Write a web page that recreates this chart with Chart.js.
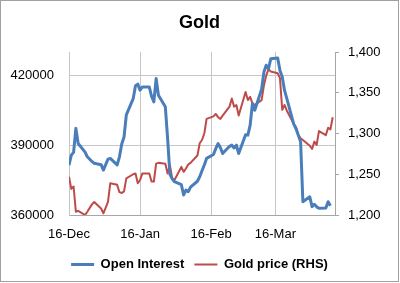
<!DOCTYPE html>
<html>
<head>
<meta charset="utf-8">
<script src="https://cdn.jsdelivr.net/npm/chart.js@4"></script>
<style>
  body { margin: 0; background: #fff; }
  #box { width: 397px; height: 280px; border: 1px solid #a0a0a0; position: relative; }
</style>
</head>
<body>
<div id="box"><canvas id="gold"></canvas></div>
<script>
// trading days, 16-Dec-2013 to 10-Apr-2014
var dates = [
  '2013-12-16','2013-12-17','2013-12-18','2013-12-19','2013-12-20',
  '2013-12-23','2013-12-24','2013-12-26','2013-12-27',
  '2013-12-30','2013-12-31','2014-01-02','2014-01-03',
  '2014-01-06','2014-01-07','2014-01-08','2014-01-09','2014-01-10',
  '2014-01-13','2014-01-14','2014-01-15','2014-01-16','2014-01-17',
  '2014-01-20','2014-01-21','2014-01-22','2014-01-23','2014-01-24',
  '2014-01-27','2014-01-28','2014-01-29','2014-01-30','2014-01-31',
  '2014-02-03','2014-02-04','2014-02-05','2014-02-06','2014-02-07',
  '2014-02-10','2014-02-11','2014-02-12','2014-02-13','2014-02-14',
  '2014-02-17','2014-02-18','2014-02-19','2014-02-20','2014-02-21',
  '2014-02-24','2014-02-25','2014-02-26','2014-02-27','2014-02-28',
  '2014-03-03','2014-03-04','2014-03-05','2014-03-06','2014-03-07',
  '2014-03-10','2014-03-11','2014-03-12','2014-03-13','2014-03-14',
  '2014-03-17','2014-03-18','2014-03-19','2014-03-20','2014-03-21',
  '2014-03-24','2014-03-25','2014-03-26','2014-03-27','2014-03-28',
  '2014-03-31','2014-04-01','2014-04-02','2014-04-03','2014-04-04',
  '2014-04-07','2014-04-08','2014-04-09','2014-04-10'
];

var openInterest = [
  381400, 385700, 386900, 397200, 390700,
  387000, 385000, 383000, 382200,
  381600, 379300, 384000, 384300,
  381500, 385000, 390500, 393500, 403000,
  410000, 415500, 416200, 413600, 415000,
  415000, 411000, 408600, 418600, 411400,
  406500, 393000, 377500, 375500, 374300,
  373000, 368600, 370700, 370000, 372000,
  374500, 376400, 379000, 381500, 384300,
  386000, 388500, 390700, 389000, 386400,
  389500, 390000, 388800, 390000, 386400,
  394500, 394300, 398600, 407900, 405000,
  414000, 421400, 424300, 422900, 427100,
  427400, 422100, 419300, 413500, 410000,
  399000, 397000, 394300, 391400, 365700,
  367800, 363600, 364600, 363500, 362900,
  363000, 365700, 364000, null
];

var goldPrice = [
  1247, 1232, 1235, 1204, 1205,
  1200, 1204, 1213, 1216,
  1208, 1202, 1216, 1239,
  1237, 1228, 1227, 1229, 1245,
  1250, 1251, 1239, 1243, 1251,
  1251, 1241, 1241, 1263, 1264,
  1263, 1251, 1261, 1245, 1243,
  1259, 1253, 1257, 1262, 1264,
  1273, 1288, 1292, 1300, 1318,
  1321, 1324, 1320, 1318, 1322,
  1333, 1343, 1333, 1335, 1322,
  1351, 1341, 1345, 1337, 1335,
  1341, 1359, 1371, 1379, 1376,
  1374, 1368, 1329, 1335, 1328,
  1312, 1308, 1298, 1294, 1292,
  1285, 1281, 1290, 1286, 1303,
  1298, 1307, 1305, 1320
];

var tickDates = ['2013-12-16', '2014-01-16', '2014-02-16', '2014-03-16'];
var tickLabels = ['16-Dec', '16-Jan', '16-Feb', '16-Mar'];
var oiTicks = [360000, 390000, 420000];
var priceTicks = [1200, 1250, 1300, 1350, 1400];

function dayOf(d) {
  return (Date.parse(d) - Date.parse(dates[0])) / 864e5;
}

function points(values) {
  return dates.map(function(d, i) { return {x: dayOf(d), y: values[i]}; });
}

function fixedTicks(list) {
  return function(axis) {
    axis.ticks = list.map(function(v) { return {value: v}; });
  };
}

var gridColor = '#c6c6c6';
var axisColor = '#a6a6a6';

Chart.defaults.font.family = '"Liberation Sans", Arial, sans-serif';
Chart.defaults.font.size = 13;
Chart.defaults.color = '#000';

var ctx = document.getElementById('gold').getContext('2d');
var config = {
  type: 'line',
  data: {
    datasets: [{
      label: 'Open Interest',
      data: points(openInterest),
      yAxisID: 'y',
      borderColor: '#4A7EBB',
      backgroundColor: '#4A7EBB',
      borderWidth: 3,
      borderJoinStyle: 'round',
      pointRadius: 0,
      tension: 0
    }, {
      label: 'Gold price (RHS)',
      data: points(goldPrice),
      yAxisID: 'y2',
      borderColor: '#BE4B48',
      backgroundColor: '#BE4B48',
      borderWidth: 2,
      borderJoinStyle: 'round',
      pointRadius: 0,
      tension: 0
    }]
  },
  options: {
    responsive: true,
    maintainAspectRatio: false,
    animation: false,
    layout: { padding: 0 },
    plugins: {
      title: {
        display: true,
        text: 'Gold',
        font: { size: 18, weight: 'bold' },
        padding: { top: 11, bottom: 18.4 }
      },
      legend: {
        position: 'bottom',
        labels: {
          usePointStyle: true,
          pointStyle: 'line',
          pointStyleWidth: 23,
          font: { size: 13, weight: 'bold' },
          padding: 10
        }
      },
      tooltip: { enabled: false }
    },
    scales: {
      x: {
        type: 'linear',
        min: 0,
        max: 116,
        afterBuildTicks: function(axis) {
          axis.ticks = tickDates.map(function(d) { return {value: dayOf(d)}; });
        },
        afterFit: function(axis) { axis.height = 33; },
        ticks: {
          autoSkip: false,
          maxRotation: 0,
          padding: 12,
          callback: function(v, i) { return tickLabels[i]; }
        },
        grid: { color: gridColor, drawTicks: false },
        border: { display: true, color: axisColor }
      },
      y: {
        position: 'left',
        min: 360000,
        max: 430000,
        afterBuildTicks: fixedTicks(oiTicks),
        afterFit: function(axis) { axis.width = 68; },
        ticks: {
          autoSkip: false,
          padding: 15,
          callback: function(v) { return String(v); }
        },
        grid: { color: gridColor, drawTicks: false },
        border: { display: true, color: gridColor }
      },
      y2: {
        position: 'right',
        min: 1200,
        max: 1400,
        afterBuildTicks: fixedTicks(priceTicks),
        afterFit: function(axis) { axis.width = 63; },
        ticks: {
          autoSkip: false,
          padding: 9,
          callback: function(v) { return v.toLocaleString('en-US'); }
        },
        grid: { drawOnChartArea: false, drawTicks: true, tickLength: 4, color: axisColor },
        border: { display: true, color: axisColor }
      }
    }
  }
};

var myChart = new Chart(ctx, config);
</script>
</body>
</html>
